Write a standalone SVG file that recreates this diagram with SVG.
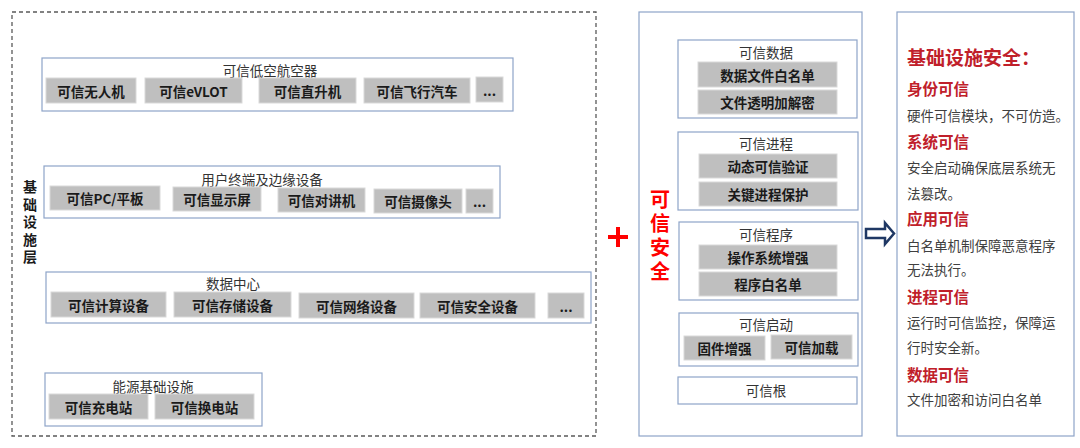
<svg xmlns="http://www.w3.org/2000/svg" width="1080" height="448" viewBox="0 0 1080 448">
<style>
text{font-family:"Noto Sans CJK SC","Microsoft YaHei",sans-serif;dominant-baseline:central;}
.grp{fill:#fff;stroke:#8EA4C8;stroke-width:1.2;}
.item{fill:#BFBFBF;stroke:#D9D9D9;stroke-width:1;}
.lbl{font-size:13.5px;font-weight:700;fill:#1a1a1a;text-anchor:middle;}
.ttl{font-size:13.5px;fill:#333;text-anchor:middle;}
.rh{font-size:15.5px;font-weight:700;fill:#C0202A;}
.rt{font-size:13.5px;fill:#404040;}
.vert{writing-mode:vertical-rl;font-weight:700;}
</style>
<rect width="1080" height="448" fill="#fff"/>

<g id="infra-layer">
<rect x="12" y="12" width="584" height="424" fill="none" stroke="#595959" stroke-width="1.3" stroke-dasharray="4 3"/>
<text class="vert" x="30" y="180" font-size="14" letter-spacing="3.5" fill="#1a1a1a">基础设施层</text>
</g>

<g id="aircraft">
<rect class="grp" x="42" y="58" width="471" height="53"/>
<text class="ttl" x="270" y="70">可信低空航空器</text>
<rect class="item" x="46" y="78" width="90" height="25"/><text class="lbl" x="91" y="90.5">可信无人机</text>
<rect class="item" x="145" y="78" width="97" height="25"/><text class="lbl" x="193.5" y="90.5">可信eVLOT</text>
<rect class="item" x="259" y="78" width="97" height="25"/><text class="lbl" x="307.5" y="90.5">可信直升机</text>
<rect class="item" x="364" y="78" width="106" height="25"/><text class="lbl" x="417" y="90.5">可信飞行汽车</text>
<rect class="item" x="476" y="77" width="27" height="25"/><text class="lbl" x="489.5" y="89.5">...</text>
</g>

<g id="terminals">
<rect class="grp" x="44" y="166" width="456" height="52"/>
<text class="ttl" x="262" y="179">用户终端及边缘设备</text>
<rect class="item" x="50" y="186" width="110" height="24"/><text class="lbl" x="105" y="198">可信PC/平板</text>
<rect class="item" x="173" y="187" width="88" height="24"/><text class="lbl" x="217" y="199">可信显示屏</text>
<rect class="item" x="278" y="188" width="87" height="24"/><text class="lbl" x="321.5" y="200">可信对讲机</text>
<rect class="item" x="374" y="189" width="88" height="24"/><text class="lbl" x="418" y="201">可信摄像头</text>
<rect class="item" x="466" y="189" width="27" height="24"/><text class="lbl" x="479.5" y="201">...</text>
</g>

<g id="datacenter">
<rect class="grp" x="46" y="272" width="545" height="51"/>
<text class="ttl" x="233" y="283">数据中心</text>
<rect class="item" x="51" y="292" width="115" height="25"/><text class="lbl" x="108.5" y="304.5">可信计算设备</text>
<rect class="item" x="174" y="292" width="117" height="25"/><text class="lbl" x="232.5" y="304.5">可信存储设备</text>
<rect class="item" x="299" y="293" width="115" height="25"/><text class="lbl" x="356.5" y="305.5">可信网络设备</text>
<rect class="item" x="420" y="293" width="115" height="25"/><text class="lbl" x="477.5" y="305.5">可信安全设备</text>
<rect class="item" x="548" y="293" width="36" height="25"/><text class="lbl" x="566" y="305.5">...</text>
</g>

<g id="energy">
<rect class="grp" x="45" y="373" width="217" height="53"/>
<text class="ttl" x="153" y="386">能源基础设施</text>
<rect class="item" x="49" y="394" width="99" height="25"/><text class="lbl" x="98.5" y="406.5">可信充电站</text>
<rect class="item" x="155" y="394" width="99" height="25"/><text class="lbl" x="204.5" y="406.5">可信换电站</text>
</g>

<g id="plus">
<path d="M608 237 H628 M618 227 V247" stroke="#FF0000" stroke-width="4" fill="none"/>
</g>

<g id="trusted-security">
<rect class="grp" x="639" y="12" width="223" height="424"/>
<text class="vert" x="660" y="189" font-size="20" letter-spacing="4" fill="#FF0000">可信安全</text>
</g>

<g id="trusted-data">
<rect class="grp" x="678" y="40" width="179" height="78"/>
<text class="ttl" x="766" y="52">可信数据</text>
<rect class="item" x="698" y="62" width="139" height="25"/><text class="lbl" x="767.5" y="74.5">数据文件白名单</text>
<rect class="item" x="698" y="90" width="139" height="24"/><text class="lbl" x="767.5" y="102">文件透明加解密</text>
</g>

<g id="trusted-process">
<rect class="grp" x="678" y="132" width="180" height="78"/>
<text class="ttl" x="766" y="143">可信进程</text>
<rect class="item" x="699" y="154" width="138" height="24"/><text class="lbl" x="768" y="166">动态可信验证</text>
<rect class="item" x="699" y="182" width="138" height="24"/><text class="lbl" x="768" y="194">关键进程保护</text>
</g>

<g id="trusted-program">
<rect class="grp" x="679" y="222" width="179" height="78"/>
<text class="ttl" x="766" y="234">可信程序</text>
<rect class="item" x="699" y="245" width="138" height="24"/><text class="lbl" x="768" y="257">操作系统增强</text>
<rect class="item" x="699" y="272" width="138" height="24"/><text class="lbl" x="768" y="284">程序白名单</text>
</g>

<g id="trusted-boot">
<rect class="grp" x="679" y="313" width="179" height="53"/>
<text class="ttl" x="766" y="324">可信启动</text>
<rect class="item" x="684" y="336" width="81" height="24"/><text class="lbl" x="724.5" y="348">固件增强</text>
<rect class="item" x="771" y="335" width="81" height="24"/><text class="lbl" x="811.5" y="347">可信加载</text>
</g>

<g id="trusted-root">
<rect class="grp" x="678" y="377" width="179" height="27"/>
<text class="ttl" x="766" y="390">可信根</text>
</g>

<g id="connectors">
<path d="M866 229 H885 V223 L894 233.5 L885 244 V238 H866 Z" fill="#fff" stroke="#1F3864" stroke-width="2.5" stroke-linejoin="miter"/>
</g>

<g id="summary">
<rect class="grp" x="897" y="12" width="177" height="424"/>
<text x="907" y="56" font-size="19" font-weight="700" fill="#C0202A">基础设施安全：</text>
<text class="rh" x="907" y="88">身份可信</text>
<text class="rt" x="907" y="115">硬件可信模块，不可仿造。</text>
<text class="rh" x="907" y="141">系统可信</text>
<text class="rt" x="907" y="167">安全启动确保底层系统无</text>
<text class="rt" x="907" y="193">法篡改。</text>
<text class="rh" x="907" y="218">应用可信</text>
<text class="rt" x="907" y="245">白名单机制保障恶意程序</text>
<text class="rt" x="907" y="269">无法执行。</text>
<text class="rh" x="907" y="296">进程可信</text>
<text class="rt" x="907" y="322">运行时可信监控，保障运</text>
<text class="rt" x="907" y="347">行时安全新。</text>
<text class="rh" x="907" y="374">数据可信</text>
<text class="rt" x="907" y="399">文件加密和访问白名单</text>
</g>
</svg>
